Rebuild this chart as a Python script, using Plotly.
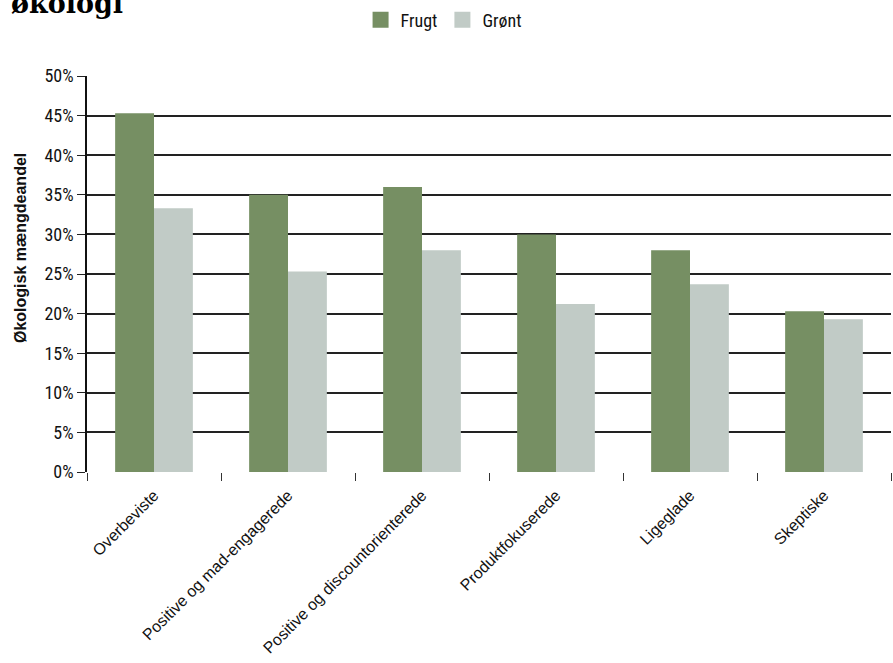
import plotly.graph_objects as go

categories = ["Overbeviste", "Positive og mad-engagerede", "Positive og discountorienterede",
              "Produktfokuserede", "Ligeglade", "Skeptiske"]
frugt = [45.3, 35.0, 36.0, 30.0, 28.0, 20.3]
gront = [33.3, 25.3, 28.0, 21.2, 23.7, 19.3]
series_names = ["Frugt", "Grønt"]
series_colors = ["#768F63", "#C1CBC6"]
y_ticks = [0, 5, 10, 15, 20, 25, 30, 35, 40, 45, 50]
y_tick_labels = [f"{v}%" for v in y_ticks]

NARROW = "Liberation Sans Narrow, Arial Narrow, Roboto Condensed, sans-serif"
REG = "Liberation Sans, Arial, sans-serif"

fig = go.Figure()
for name, vals, col in zip(series_names, [frugt, gront], series_colors):
    fig.add_trace(go.Bar(name=name, x=categories, y=vals, marker_color=col,
                         marker_line_width=0, showlegend=False))
# legend proxies with larger square swatches
for name, col in zip(series_names, series_colors):
    fig.add_trace(go.Scatter(name=name, x=[None], y=[None], mode="markers",
                             marker=dict(symbol="square", size=16, color=col), showlegend=True))

fig.update_layout(
    width=893, height=663,
    margin=dict(l=87, r=2, t=76, b=191, autoexpand=False),
    paper_bgcolor="white", plot_bgcolor="white",
    barmode="group", bargap=0.42, bargroupgap=0,
    font=dict(family=NARROW, size=16, color="#111"),
    legend=dict(orientation="h", xref="paper", x=0.4435, xanchor="center",
                yref="container", y=1 - 20 / 663, yanchor="middle",
                font=dict(size=18, family=NARROW), traceorder="normal", itemwidth=30),
    showlegend=True,
)
fig.update_yaxes(range=[0, 50], tickvals=y_ticks, ticktext=y_tick_labels,
                 showgrid=True, gridcolor="#222", gridwidth=1.7,
                 showline=True, linecolor="#111", linewidth=1.7,
                 ticks="outside", ticklen=8, tickcolor="#222", tickwidth=1.4,
                 tickfont=dict(size=18, family=NARROW), zeroline=False)
fig.update_xaxes(showline=False, ticks="outside", ticklen=8, tickcolor="#333", tickwidth=1.4,
                 tickson="boundaries", tickangle=-45, ticklabelstandoff=10,
                 tickfont=dict(size=16, family=REG))
# y-axis title placed as rotated annotation to match the reference position
fig.add_annotation(text="<b>Økologisk mængdeandel</b>", textangle=-90, xref="paper", yref="paper",
                   x=(20 - 87) / 804, y=(472 - 248) / 396, xanchor="center", yanchor="middle",
                   showarrow=False, font=dict(size=16, family=REG, color="#111"))
fig.add_annotation(text="<b>økologi</b>", xref="paper", yref="paper", x=-0.0965, xanchor="left",
                   y=1.0 + (76 - 20.5) / 396, yanchor="bottom", showarrow=False,
                   font=dict(family="DejaVu Serif, Liberation Serif, serif", size=27, color="#000"))

fig.write_html("out.html")
